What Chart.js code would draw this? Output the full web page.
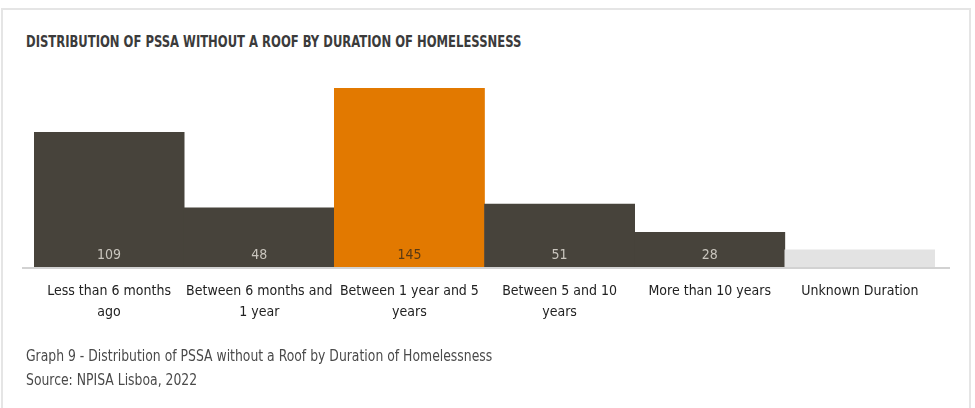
<!DOCTYPE html>
<html lang="en">
<head>
  <meta charset="UTF-8" />
  <title>PSSA without a roof - duration of homelessness</title>
  <style>
    html, body {
      margin: 0;
      padding: 0;
      background: #fff;
      width: 975px;
      height: 408px;
      overflow: hidden;
      font-family: 'Liberation Sans Narrow', 'DejaVu Sans Condensed', sans-serif;
    }
    .card {
      position: absolute;
      left: 1px;
      top: 8px;
      width: 970px;
      height: 410px;
      border: 2px solid #e5e5e5;
      border-bottom: none;
      box-sizing: border-box;
    }
    .title {
      position: absolute;
      left: 26px;
      top: 33px;
      font-size: 15px;
      font-weight: bold;
      color: #3b3b3b;
      white-space: nowrap;
      transform: scaleX(0.86);
      transform-origin: left center;
    }
    .caption {
      position: absolute;
      left: 26px;
      font-size: 15px;
      color: #4a4a4a;
      white-space: nowrap;
      transform: scaleX(0.92);
      transform-origin: left center;
    }
    #chartBox {
      position: absolute;
      left: 0;
      top: 0;
      width: 975px;
      height: 408px;
    }
  </style>
</head>
<body>
  <div class="card"></div>
  <div class="title">DISTRIBUTION OF PSSA WITHOUT A ROOF BY DURATION OF HOMELESSNESS</div>
  <div id="chartBox"><canvas id="durationChart" width="975" height="408"></canvas></div>
  <div class="caption" style="top: 347px;">Graph 9 - Distribution of PSSA without a Roof by Duration of Homelessness</div>
  <div class="caption" style="top: 371px;">Source: NPISA Lisboa, 2022</div>

  <script src="https://cdn.jsdelivr.net/npm/chart.js"></script>
  <script>
    const categories = [
      ["Less than 6 months", "ago"],
      ["Between 6 months and", "1 year"],
      ["Between 1 year and 5", "years"],
      ["Between 5 and 10", "years"],
      "More than 10 years",
      "Unknown Duration"
    ];
    const people = [109, 48, 145, 51, 28, 14];
    const showValue = [true, true, true, true, true, false];
    const barColors = ["#47433b", "#47433b", "#e27900", "#47433b", "#47433b", "#e3e3e3"];
    const valueColors = ["#c9c5bd", "#c9c5bd", "#5a3a14", "#c9c5bd", "#c9c5bd", "#c9c5bd"];

    const fontFamily = "'Liberation Sans Narrow', 'DejaVu Sans Condensed', sans-serif";

    // baseline drawn a little wider than the bars
    const baseline = {
      id: "baseline",
      afterDatasetsDraw(chart) {
        const { ctx, chartArea } = chart;
        ctx.save();
        ctx.strokeStyle = "#d2d2d2";
        ctx.lineWidth = 2;
        ctx.beginPath();
        ctx.moveTo(chartArea.left - 12, chartArea.bottom + 1);
        ctx.lineTo(chartArea.right + 15, chartArea.bottom + 1);
        ctx.stroke();
        ctx.restore();
      }
    };

    // values written near the foot of each bar
    const barValues = {
      id: "barValues",
      afterDatasetsDraw(chart) {
        const { ctx } = chart;
        const meta = chart.getDatasetMeta(0);
        ctx.save();
        ctx.font = "14px " + fontFamily;
        ctx.textAlign = "center";
        ctx.textBaseline = "middle";
        meta.data.forEach((bar, i) => {
          if (!showValue[i]) return;
          ctx.fillStyle = valueColors[i];
          ctx.fillText(people[i], bar.x, bar.base - 12);
        });
        ctx.restore();
      }
    };

    new Chart(document.getElementById("durationChart"), {
      type: "bar",
      data: {
        labels: categories,
        datasets: [{
          data: people,
          backgroundColor: barColors,
          borderWidth: 0,
          categoryPercentage: 1,
          barPercentage: 1
        }]
      },
      options: {
        responsive: false,
        animation: false,
        layout: { padding: { left: 34, right: 40, top: 88, bottom: 71 } },
        plugins: {
          legend: { display: false },
          tooltip: { enabled: false }
        },
        scales: {
          x: {
            grid: { display: false, drawTicks: false },
            border: { display: false },
            ticks: {
              padding: 14,
              color: "#222",
              maxRotation: 0,
              autoSkip: false,
              font: { family: fontFamily, size: 14, lineHeight: 1.5 }
            }
          },
          y: {
            display: false,
            min: 0,
            max: 145
          }
        }
      },
      plugins: [baseline, barValues]
    });
  </script>
</body>
</html>
